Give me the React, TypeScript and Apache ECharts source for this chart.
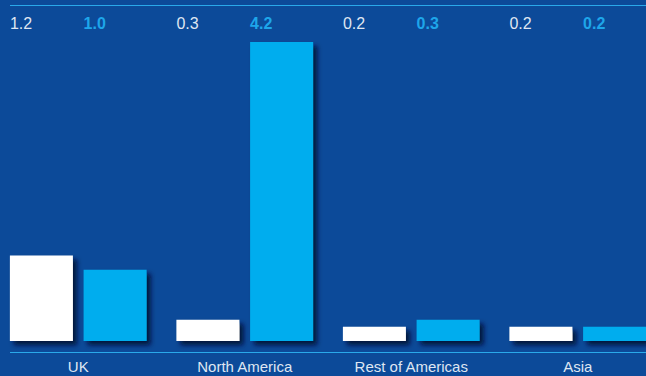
import React, { useEffect, useRef } from "react";
import * as echarts from "echarts";

const categories = ["UK", "North America", "Rest of Americas", "Asia"];
const series1Values = [1.2, 0.3, 0.2, 0.2];
const series2Values = [1.0, 4.2, 0.3, 0.2];
const series1Labels = ["1.2", "0.3", "0.2", "0.2"];
const series2Labels = ["1.0", "4.2", "0.3", "0.2"];

const Y_MAX = 4.72;

export default function App() {
  const ref = useRef<HTMLDivElement>(null);
  useEffect(() => {
    if (!ref.current) return;
    const chart = echarts.init(ref.current, undefined, { renderer: "svg" });
    const font = "'Liberation Sans', Arial, Helvetica, sans-serif";
    const shadow = {
      shadowColor: "rgba(0, 12, 50, 0.9)",
      shadowBlur: 5,
      shadowOffsetX: 4,
      shadowOffsetY: 4,
    };
    const full = categories.map(() => Y_MAX);
    chart.setOption({
      animation: false,
      backgroundColor: "#0c4a99",
      grid: { left: 0, right: 0, top: 5, bottom: 35 },
      xAxis: [
        {
          type: "category",
          data: categories,
          axisLine: { show: false },
          axisTick: { show: false },
          axisLabel: {
            color: "#dfe6f2",
            fontSize: 15,
            fontFamily: font,
            margin: 18,
          },
        },
        {
          type: "category",
          data: categories,
          show: false,
        },
      ],
      yAxis: {
        type: "value",
        min: 0,
        max: Y_MAX,
        show: false,
        splitLine: { show: false },
      },
      series: [
        {
          type: "bar",
          xAxisIndex: 0,
          data: series1Values,
          barWidth: 63,
          barGap: "17%",
          itemStyle: { color: "#ffffff", ...shadow },
        },
        {
          type: "bar",
          xAxisIndex: 0,
          data: series2Values,
          barWidth: 63,
          barGap: "17%",
          itemStyle: { color: "#00adee", ...shadow },
        },
        {
          type: "bar",
          xAxisIndex: 1,
          data: full,
          barWidth: 63,
          barGap: "17%",
          silent: true,
          itemStyle: { color: "rgba(0,0,0,0)" },
          label: {
            show: true,
            position: [0, 10],
            align: "left",
            verticalAlign: "top",
            color: "#dfe6f2",
            fontSize: 16,
            fontFamily: font,
            formatter: (p: any) => series1Labels[p.dataIndex],
          },
        },
        {
          type: "bar",
          xAxisIndex: 1,
          data: full,
          barWidth: 63,
          barGap: "17%",
          silent: true,
          itemStyle: { color: "rgba(0,0,0,0)" },
          label: {
            show: true,
            position: [0, 10],
            align: "left",
            verticalAlign: "top",
            color: "#1ea6ea",
            fontSize: 16,
            fontWeight: "bold",
            fontFamily: font,
            formatter: (p: any) => series2Labels[p.dataIndex],
          },
        },
      ],
      graphic: [
        {
          type: "line",
          shape: { x1: 15, y1: 5.5, x2: 651, y2: 5.5 },
          style: { stroke: "#2aa9ea", lineWidth: 1 },
          z: 10,
        },
        {
          type: "line",
          shape: { x1: 15, y1: 352.5, x2: 651, y2: 352.5 },
          style: { stroke: "#2aa9ea", lineWidth: 1 },
          z: 10,
        },
      ],
    });
    return () => chart.dispose();
  }, []);
  return (
    <div
      ref={ref}
      style={{ position: "fixed", left: -5, top: 0, width: 666, height: 376 }}
    />
  );
}
